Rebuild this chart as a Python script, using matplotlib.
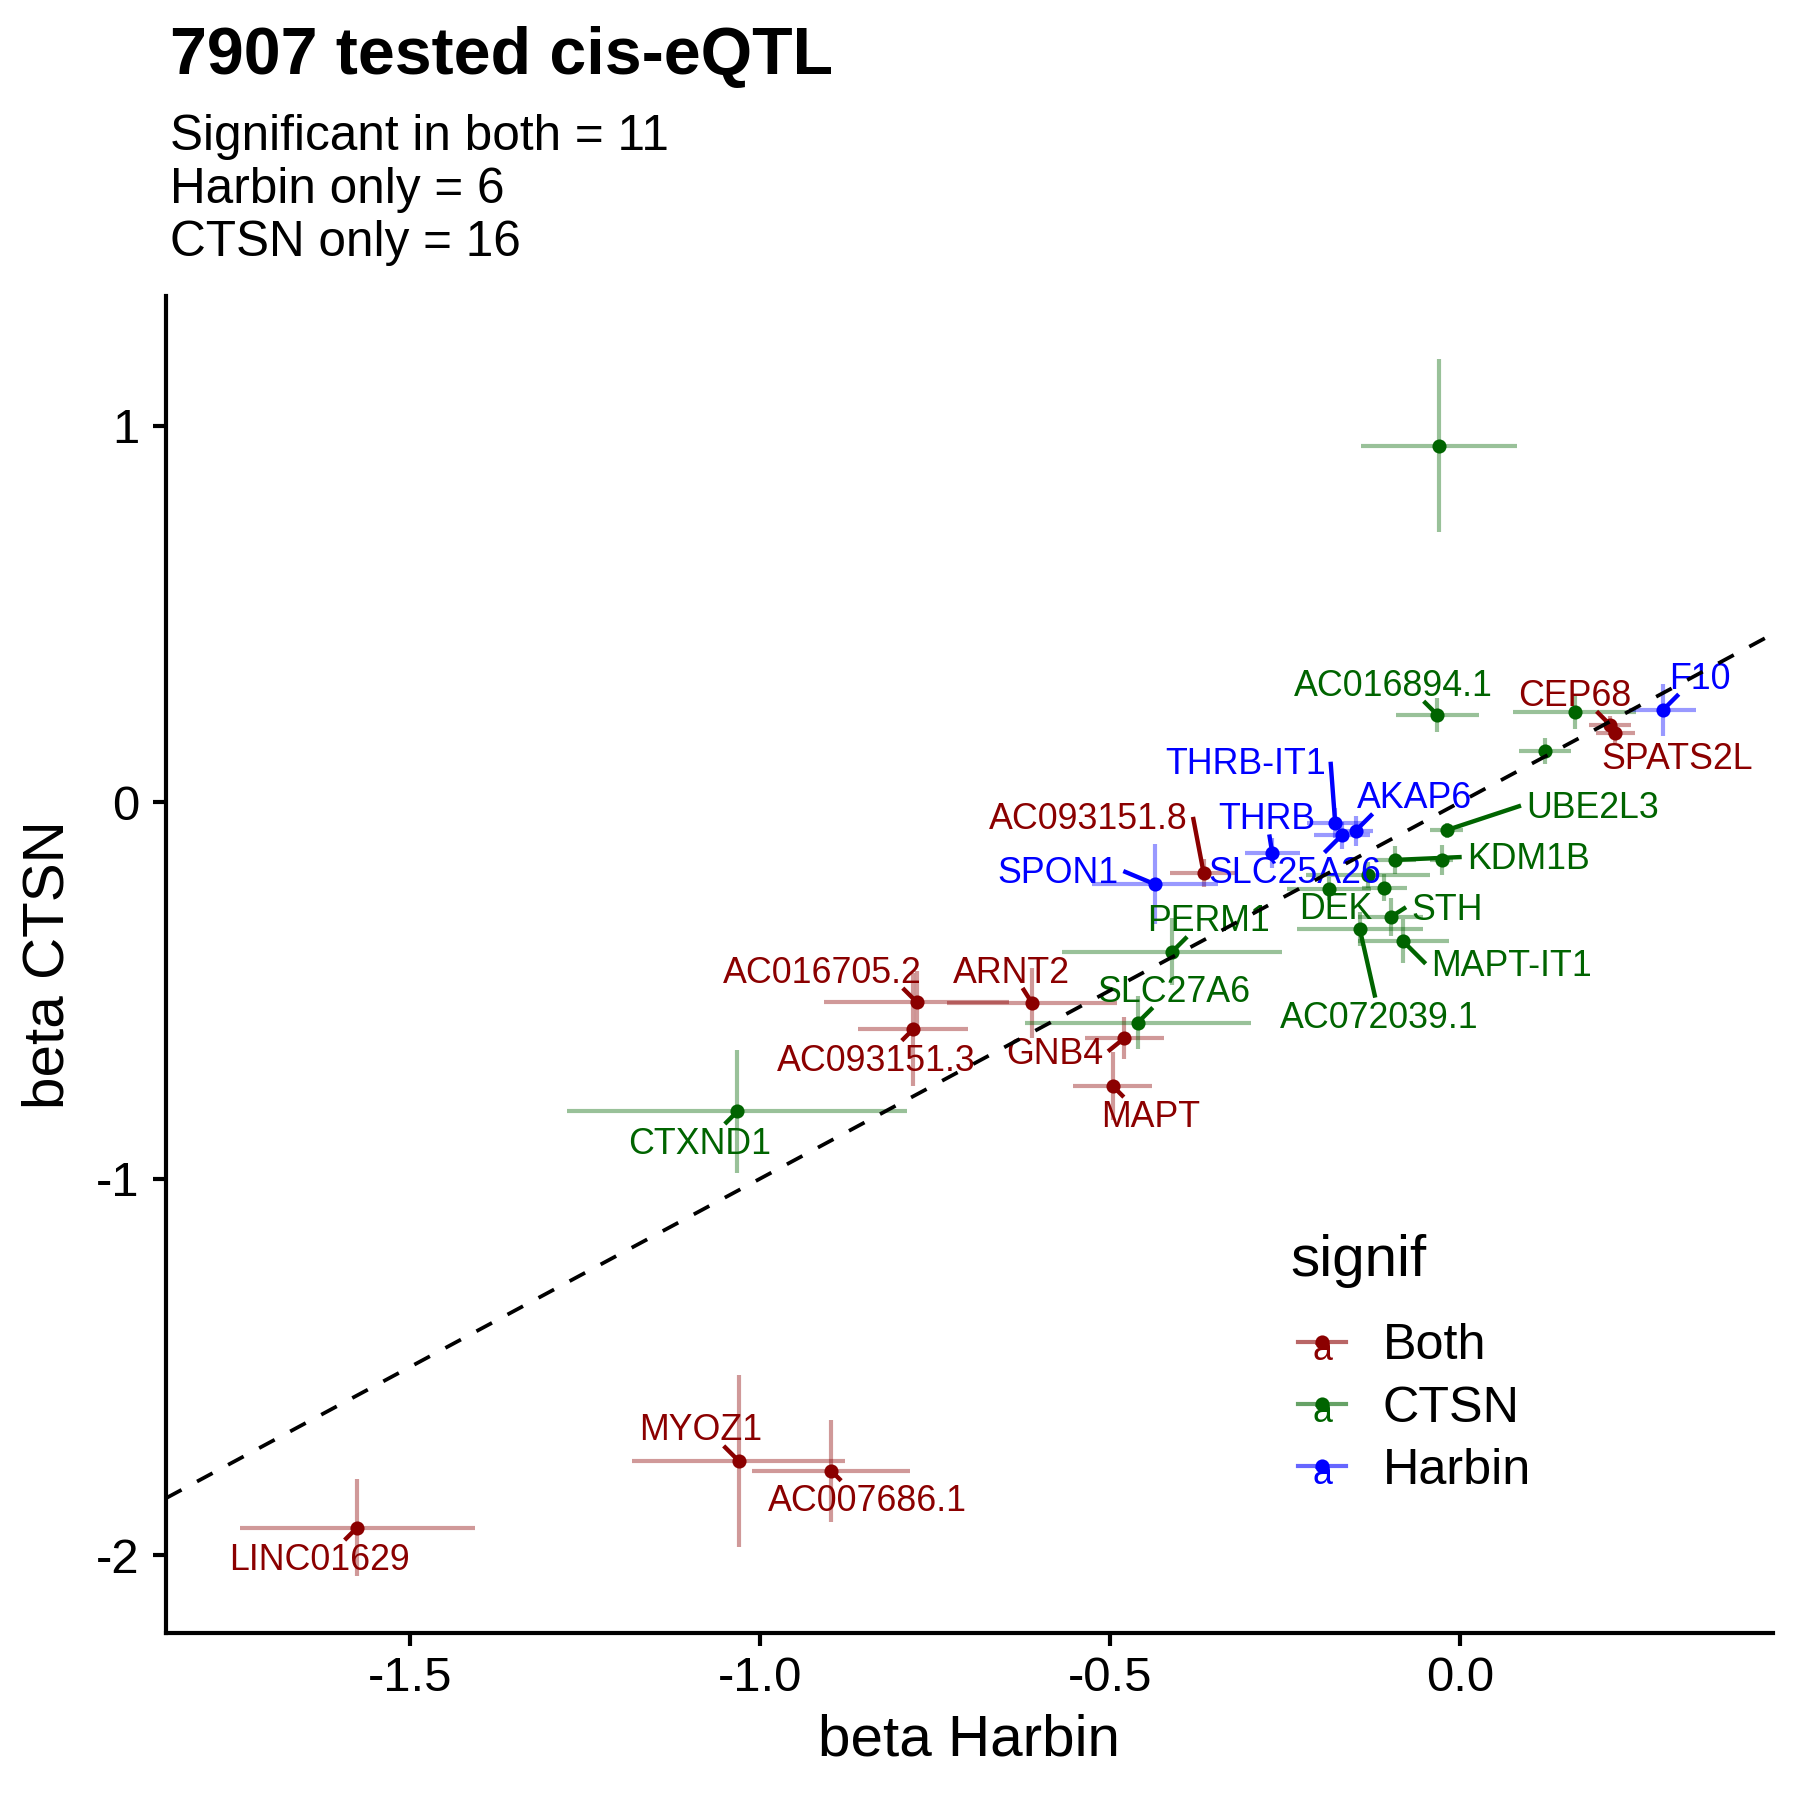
import matplotlib
matplotlib.use("Agg")
import matplotlib.pyplot as plt
from matplotlib.lines import Line2D
from matplotlib.text import Text
from matplotlib.legend_handler import HandlerBase
from matplotlib.colors import to_rgba
import numpy as np

# ---------------- data ----------------
both_gene = ["LINC01629", "MYOZ1", "AC007686.1", "AC016705.2", "ARNT2", "AC093151.3",
             "GNB4", "MAPT", "AC093151.8", "CEP68", "SPATS2L"]
both_x = [-1.575, -1.030, -0.898, -0.776, -0.611, -0.781, -0.479, -0.496, -0.366, 0.215, 0.222]
both_y = [-1.926, -1.749, -1.775, -0.530, -0.533, -0.603, -0.626, -0.753, -0.187, 0.205, 0.183]
both_xerr = [0.168, 0.152, 0.113, 0.132, 0.121, 0.078, 0.057, 0.056, 0.048, 0.030, 0.028]
both_yerr = [0.128, 0.228, 0.135, 0.082, 0.093, 0.150, 0.055, 0.090, 0.037, 0.025, 0.025]

ctsn_gene = ["", "AC016894.1", "", "", "UBE2L3", "KDM1B", "", "", "DEK", "", "STH",
             "AC072039.1", "MAPT-IT1", "PERM1", "SLC27A6", "CTXND1"]
ctsn_x = [-0.030, -0.032, 0.164, 0.122, -0.019, -0.093, -0.026, -0.131, -0.187, -0.108,
          -0.099, -0.143, -0.081, -0.411, -0.460, -1.032]
ctsn_y = [0.947, 0.232, 0.241, 0.136, -0.074, -0.153, -0.153, -0.193, -0.229, -0.227,
          -0.305, -0.336, -0.369, -0.397, -0.585, -0.821]
ctsn_xerr = [0.111, 0.059, 0.088, 0.037, 0.024, 0.030, 0.016, 0.089, 0.060, 0.032,
             0.046, 0.090, 0.065, 0.157, 0.161, 0.243]
ctsn_yerr = [0.230, 0.044, 0.045, 0.035, 0.020, 0.038, 0.040, 0.035, 0.030, 0.036,
             0.050, 0.045, 0.058, 0.089, 0.071, 0.164]

harbin_gene = ["SPON1", "THRB", "THRB-IT1", "AKAP6", "SLC25A26", "F10"]
harbin_x = [-0.435, -0.268, -0.178, -0.149, -0.169, 0.290]
harbin_y = [-0.218, -0.134, -0.056, -0.076, -0.088, 0.245]
harbin_xerr = [0.090, 0.039, 0.040, 0.025, 0.040, 0.048]
harbin_yerr = [0.106, 0.040, 0.040, 0.040, 0.035, 0.069]

groups = ["Both", "CTSN", "Harbin"]
colors = {"Both": "#8B0000", "CTSN": "#006400", "Harbin": "#0000FF"}

title = "7907 tested cis-eQTL"
subtitle_lines = ["Significant in both = 11", "Harbin only = 6", "CTSN only = 16"]
xlabel = "beta Harbin"
ylabel = "beta CTSN"
xticks = [-1.5, -1.0, -0.5, 0.0]
xticklabels = ["-1.5", "-1.0", "-0.5", "0.0"]
yticks = [-2, -1, 0, 1]
yticklabels = ["-2", "-1", "0", "1"]

# label offsets (points) from each point, emulating repelled labels
label_offset = {
    "LINC01629": (-9.0, -8.0), "MYOZ1": (-9.1, 7.2), "AC007686.1": (8.8, -7.4),
    "CTXND1": (-9.1, -8.0), "AC016705.2": (-22.6, 6.9), "ARNT2": (-5.0, 7.2),
    "AC093151.3": (-8.8, -7.7), "GNB4": (-16.8, -3.9), "MAPT": (9.1, -7.7),
    "SLC27A6": (8.8, 7.2), "PERM1": (8.8, 7.2), "SPON1": (-23.4, 2.5),
    "AC093151.8": (-27.6, 12.7), "THRB": (-1.4, 8.0), "THRB-IT1": (-21.6, 14.1),
    "AKAP6": (14.1, 7.7), "SLC25A26": (-11.3, -9.1), "UBE2L3": (35.0, 5.2),
    "KDM1B": (32.0, 0.0), "DEK": (1.7, -5.0), "STH": (13.5, 1.7),
    "MAPT-IT1": (25.9, -6.1), "AC072039.1": (4.7, -21.5), "AC016894.1": (-10.5, 6.9),
    "CEP68": (-8.5, 6.9), "SPATS2L": (14.9, -6.3), "F10": (8.8, 7.4),
}

LABEL_FS = 8.6

# ---------------- figure ----------------
plt.rcParams["font.family"] = ["Liberation Sans", "DejaVu Sans"]
W = H = 1800
DPI = 300
fig = plt.figure(figsize=(6, 6), dpi=DPI)
L, R, T, B = 166, 1772.8, 296, 1633
ax = fig.add_axes([L / W, 1 - B / H, (R - L) / W, (B - T) / H])

data = {
    "Both": (both_gene, both_x, both_y, both_xerr, both_yerr),
    "CTSN": (ctsn_gene, ctsn_x, ctsn_y, ctsn_xerr, ctsn_yerr),
    "Harbin": (harbin_gene, harbin_x, harbin_y, harbin_xerr, harbin_yerr),
}

for g in groups:
    genes, xs, ys, xe, ye = data[g]
    c = colors[g]
    ax.errorbar(xs, ys, xerr=xe, yerr=ye, fmt="none", ecolor=to_rgba(c, 0.4),
                elinewidth=1.0, capsize=0, zorder=1)
for g in groups:
    genes, xs, ys, xe, ye = data[g]
    ax.scatter(xs, ys, s=11.5, color=colors[g], zorder=2, linewidths=0)

xlim = (-1.848, 0.447)
ylim = (-2.206, 1.3446)
ax.set_xlim(*xlim)
ax.set_ylim(*ylim)

texts = []
for g in groups:
    genes, xs, ys, xe, ye = data[g]
    c = colors[g]
    for name, x, y in zip(genes, xs, ys):
        if not name:
            continue
        dx, dy = label_offset[name]
        t = ax.annotate(name, xy=(x, y), xytext=(dx, dy), textcoords="offset points",
                        ha="center", va="center", fontsize=LABEL_FS, color=c, zorder=3)
        texts.append((t, x, y, c))

ax.plot(xlim, xlim, color="black", lw=0.9, dashes=(4.7, 4.7), zorder=4)

for s in ["top", "right"]:
    ax.spines[s].set_visible(False)
for s in ["left", "bottom"]:
    ax.spines[s].set_linewidth(1.0)
ax.set_xticks(xticks)
ax.set_xticklabels(xticklabels)
ax.set_yticks(yticks)
ax.set_yticklabels(yticklabels)
ax.tick_params(axis="both", length=3.1, width=1.0, labelsize=11.8, colors="black")
ax.tick_params(axis="x", pad=2.4)
ax.tick_params(axis="y", pad=3.2)
ax.set_xlabel(xlabel, fontsize=14, labelpad=3)
ax.set_ylabel(ylabel, fontsize=14, labelpad=5)

fig.text(170 / W, 1 - 74 / H, title, fontsize=15.9, fontweight="bold",
         ha="left", va="baseline")
for i, line in enumerate(subtitle_lines):
    fig.text(170 / W, 1 - (150 + 53 * i) / H, line, fontsize=11.9,
             ha="left", va="baseline")


# ---------------- legend ----------------
class KeyHandler(HandlerBase):
    def create_artists(self, legend, orig_handle, xdescent, ydescent, width,
                       height, fontsize, trans):
        c = orig_handle.get_color()
        yc = height / 2 - ydescent
        x0 = -xdescent + 2.0
        x1 = width - xdescent
        xc = (x0 + x1) / 2
        ln = Line2D([x0, x1], [yc, yc], color=c, alpha=0.6, lw=1.0)
        tx = Text(xc, yc - 2.0, "a", color=c, ha="center", va="center", fontsize=LABEL_FS)
        dot = Line2D([xc], [yc], marker="o", ms=3.4, color=c, lw=0, markeredgewidth=0)
        for a in (ln, tx, dot):
            a.set_transform(trans)
        return [ln, tx, dot]


handles = [Line2D([], [], color=colors[g]) for g in groups]
leg = ax.legend(handles, groups, title="signif", frameon=False,
                loc="upper left", bbox_to_anchor=(1290 / W, 1 - 1234 / H),
                bbox_transform=fig.transFigure, fontsize=12.1, title_fontsize=14,
                handlelength=1.12, handletextpad=0.72, labelspacing=0.32,
                borderpad=0, borderaxespad=0,
                handler_map={Line2D: KeyHandler()})
leg._legend_box.align = "left"
leg._legend_box.sep = 8.5

# ---------------- repel-style segments ----------------
fig.canvas.draw()
renderer = fig.canvas.get_renderer()
fs_px = LABEL_FS * DPI / 72.0
pad = 1.2 * DPI / 72.0
side_tol = 1.5
min_len = 3.0 * DPI / 72.0
inv = ax.transData.inverted()
for t, x, y, c in texts:
    bb = t.get_window_extent(renderer)
    base = bb.y0 + 0.21 * fs_px
    x0, x1 = bb.x0 - pad, bb.x1 + pad
    y0, y1 = base - pad, base + 0.72 * fs_px + pad
    cx, cy = (bb.x0 + bb.x1) / 2, base + 0.36 * fs_px
    px, py = ax.transData.transform((x, y))
    if x0 <= px <= x1 and y0 <= py <= y1:
        continue
    if px < x0 - side_tol or px > x1 + side_tol:
        # point lies beside the label: connect to the middle of that side
        ex = x0 if px < x0 else x1
        ey = cy
    else:
        # point above/below: head toward the label centre, clipped at the box
        vx, vy = cx - px, cy - py
        cands = []
        if vx != 0:
            for xb in (x0, x1):
                s = (xb - px) / vx
                yy = py + s * vy
                if 0 <= s <= 1 and y0 - 1e-6 <= yy <= y1 + 1e-6:
                    cands.append(s)
        if vy != 0:
            for yb in (y0, y1):
                s = (yb - py) / vy
                xx = px + s * vx
                if 0 <= s <= 1 and x0 - 1e-6 <= xx <= x1 + 1e-6:
                    cands.append(s)
        if not cands:
            continue
        s = min(cands)
        ex, ey = px + s * vx, py + s * vy
        if abs(ex - px) > abs(ey - py) and abs(ey - py) > 0:
            ex = px + np.sign(ex - px) * abs(ey - py)
    if np.hypot(ex - px, ey - py) < min_len:
        continue
    (dx0, dy0), (dx1, dy1) = inv.transform([(px, py), (ex, ey)])
    ax.plot([dx0, dx1], [dy0, dy1], color=c, lw=1.05, zorder=2.5,
            solid_capstyle="butt")

fig.savefig("out.png", dpi=DPI)
